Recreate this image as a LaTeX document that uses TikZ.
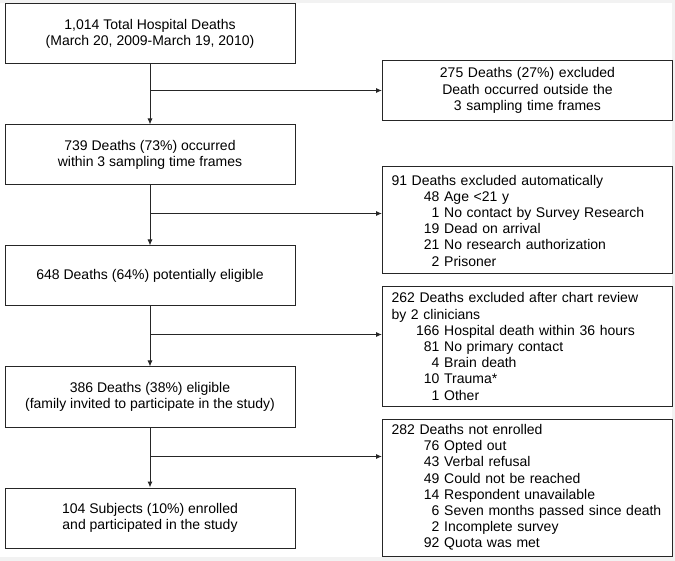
\documentclass[tikz,border=0pt]{standalone}
\usepackage{fontspec}
\setmainfont{Liberation Sans}
\usetikzlibrary{positioning, arrows.meta, calc}
\definecolor{frameInk}{HTML}{262626}
\definecolor{pageEdge}{HTML}{F2F2F2}
\newcommand{\cnt}[1]{\makebox[48pt][r]{#1}\ }

\begin{document}
\begin{tikzpicture}[
        x=1pt, y=1pt,
        node distance=60pt,
        box/.style={rectangle, draw=frameInk, line width=1pt, minimum width=290pt,
            font=\fontsize{14}{16.2}\selectfont, inner xsep=9pt, inner ysep=3pt},
        stepbox/.style={box, minimum height=60pt, align=center},
        sidebox/.style={box, text width=272pt, anchor=west},
        arrow/.style={-{Latex[length=6pt, width=5pt]}, line width=1pt, draw=frameInk},
        ]
        % Page
        \fill[pageEdge] (0,0) rectangle (675,-561);
        \fill[white] (0,-3) rectangle (672,-557);
        \coordinate (rcol) at (382,0);

        % Main chain
        \node[stepbox] (total) at (150,-34)
        {1,014 Total Hospital Deaths\\(March 20, 2009-March 19, 2010)};

        \node[stepbox, below=of total] (frames)
        {739 Deaths (73\%) occurred\\within 3 sampling time frames};
        \draw[arrow] (total) -- (frames);

        \node[stepbox, below=of frames] (potential)
        {648 Deaths (64\%) potentially eligible};
        \draw[arrow] (frames) -- (potential);

        \node[stepbox, below=of potential] (eligible)
        {386 Deaths (38\%) eligible\\(family invited to participate in the study)};
        \draw[arrow] (potential) -- (eligible);

        \node[stepbox, below=of eligible] (enrolled)
        {104 Subjects (10\%) enrolled\\and participated in the study};
        \draw[arrow] (eligible) -- (enrolled);

        % Exclusion: outside time frames
        \coordinate (j1) at ($(total.south)+(0,-26)$);
        \node[sidebox, align=center, minimum height=60pt] (outside) at (j1 -| rcol)
        {275 Deaths (27\%) excluded\\Death occurred outside the\\3 sampling time frames};
        \draw[arrow] (j1) -- (outside.west);

        % Exclusion: automatic
        \coordinate (j2) at ($(frames.south)+(0,-28)$);
        \node[sidebox, align=left, minimum height=107pt] (auto) at (382,-220.5)
        {91 Deaths excluded automatically\\
            \cnt{48}Age <21 y\\
            \cnt{1}No contact by Survey Research\\
            \cnt{19}Dead on arrival\\
            \cnt{21}No research authorization\\
            \cnt{2}Prisoner};
        \draw[arrow] (j2) -- (j2 -| auto.west);

        % Exclusion: chart review
        \coordinate (j3) at ($(potential.south)+(0,-28)$);
        \node[sidebox, align=left, minimum height=119pt, below=12pt of auto.south west, anchor=north west] (chart)
        {262 Deaths excluded after chart review\\
            by 2 clinicians\\
            \cnt{166}Hospital death within 36 hours\\
            \cnt{81}No primary contact\\
            \cnt{4}Brain death\\
            \cnt{10}Trauma*\\
            \cnt{1}Other};
        \draw[arrow] (j3) -- (j3 -| chart.west);

        % Not enrolled
        \coordinate (j4) at ($(eligible.south)+(0,-29)$);
        \node[sidebox, align=left, minimum height=137pt, below=12pt of chart.south west, anchor=north west] (refused)
        {282 Deaths not enrolled\\
            \cnt{76}Opted out\\
            \cnt{43}Verbal refusal\\
            \cnt{49}Could not be reached\\
            \cnt{14}Respondent unavailable\\
            \cnt{6}Seven months passed since death\\
            \cnt{2}Incomplete survey\\
            \cnt{92}Quota was met};
        \draw[arrow] (j4) -- (j4 -| refused.west);
    \end{tikzpicture}
\end{document}
